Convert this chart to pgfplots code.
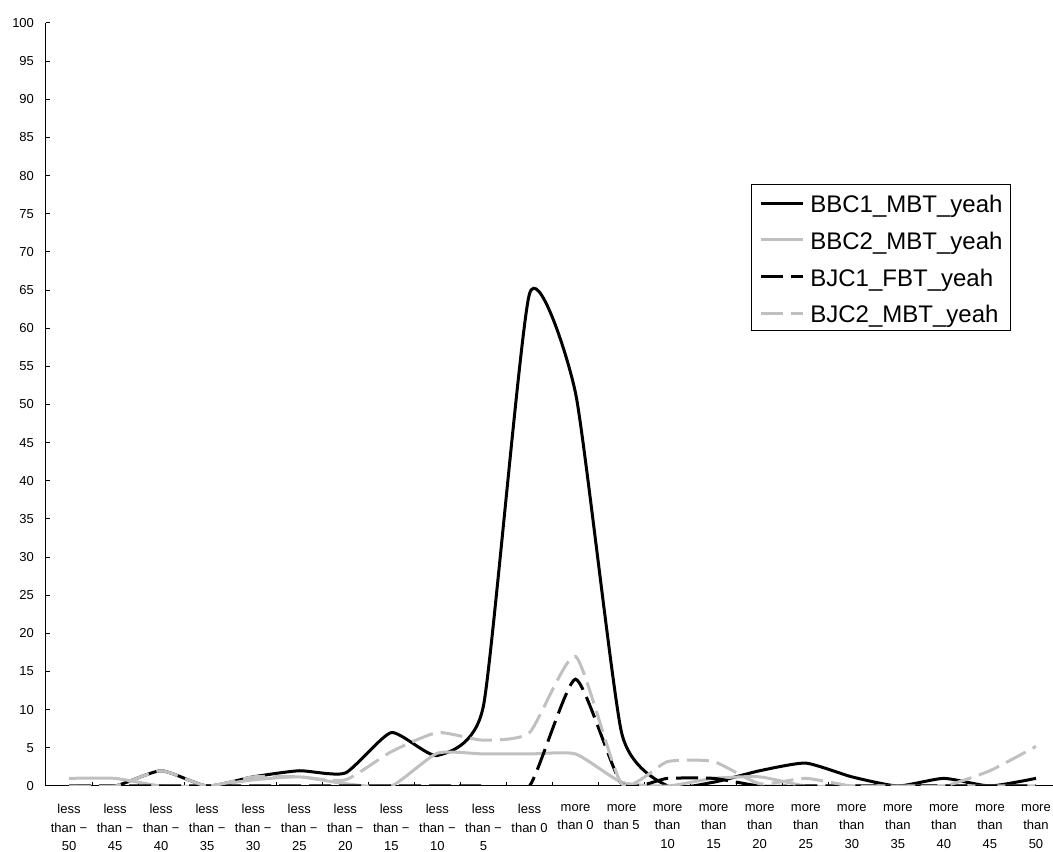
\documentclass[border=0pt]{standalone}
\usepackage{pgfplots}
\pgfplotsset{compat=1.18}
\usepackage{fontspec}
\setmainfont{Liberation Sans}
\definecolor{silv}{RGB}{192,192,192}
\begin{document}
\begin{tikzpicture}
\useasboundingbox (0,0) rectangle (789.75pt,639pt);
\begin{axis}[
  at={(34.5pt,49.5pt)}, anchor=south west,
  scale only axis, width=759.75pt, height=572.25pt,
  xmin=-0.5, xmax=21.5, ymin=0, ymax=100,
  axis x line*=bottom, axis y line*=left,
  axis line style={black, line width=0.75pt},
  xtick={0,...,21},
  xticklabels={{less\\than −\\50},{less\\than −\\45},{less\\than −\\40},{less\\than −\\35},{less\\than −\\30},{less\\than −\\25},{less\\than −\\20},{less\\than −\\15},{less\\than −\\10},{less\\than −\\5},{less\\than 0},{more\\than 0},{more\\than 5},{more\\than\\10},{more\\than\\15},{more\\than\\20},{more\\than\\25},{more\\than\\30},{more\\than\\35},{more\\than\\40},{more\\than\\45},{more\\than\\50}},
  minor xtick={0.5,1.5,...,21.5},
  major x tick style={draw=none},
  ytick={0,5,...,100},
  tick align=inside,
  major tick length=3.25pt, minor tick length=3.25pt,
  tick style={black, line width=0.75pt},
  /pgf/number format/assume math mode=true,
  tick label style={font=\fontsize{9.75}{14}\selectfont},
  xticklabel style={align=center, yshift=-10pt},
  yticklabel style={xshift=-5.5pt},
  legend style={at={(0.9526,0.789)}, anchor=north east, draw=black, line width=0.75pt,
    font=\fontsize{18}{21}\selectfont, inner xsep=6pt, inner ysep=3pt,
    nodes={inner sep=0pt, text height=18.25pt, text depth=2.5pt},
    row sep=6.75pt, column sep=4.5pt, cells={anchor=west}},
  legend image code/.code={\draw[#1] (0pt,-0.75pt) -- (31.5pt,-0.75pt);},
  every axis plot/.append style={line width=2.25pt, smooth, tension=0.33},
]
\addplot[black] coordinates {(0,0) (1,0) (2,2) (3,0) (4,1.2) (5,2) (6,1.7) (7,7) (8,4) (9,10.5) (10,64.5) (11,51.5) (12,7) (13,0) (14,0.5) (15,2) (16,3) (17,1.2) (18,0) (19,1) (20,0) (21,1)};
\addlegendentry{BBC1\_MBT\_yeah}
\addplot[silv] coordinates {(0,1) (1,1) (2,0) (3,0) (4,0.8) (5,1.2) (6,0.3) (7,0) (8,4.3) (9,4.2) (10,4.2) (11,4.2) (12,0.5) (13,0) (14,1) (15,1.2) (16,0) (17,0) (18,0) (19,0) (20,0) (21,0)};
\addlegendentry{BBC2\_MBT\_yeah}
\addplot[black, dash pattern=on 16.5pt off 6pt] coordinates {(0,0) (1,0) (2,0) (3,0) (4,0) (5,0) (6,0) (7,0) (8,0) (9,0) (10,0) (11,14) (12,0.3) (13,1) (14,1) (15,0) (16,0) (17,0) (18,0) (19,0) (20,0) (21,0)};
\addlegendentry{BJC1\_FBT\_yeah}
\addplot[silv, dash pattern=on 16.5pt off 6pt] coordinates {(0,0) (1,0) (2,2) (3,0) (4,1.2) (5,1.2) (6,0.8) (7,4.5) (8,7) (9,6) (10,7) (11,17) (12,0.3) (13,3.2) (14,3.2) (15,0.3) (16,1) (17,0) (18,0) (19,0) (20,2) (21,5.2)};
\addlegendentry{BJC2\_MBT\_yeah}
\end{axis}
\end{tikzpicture}
\end{document}
